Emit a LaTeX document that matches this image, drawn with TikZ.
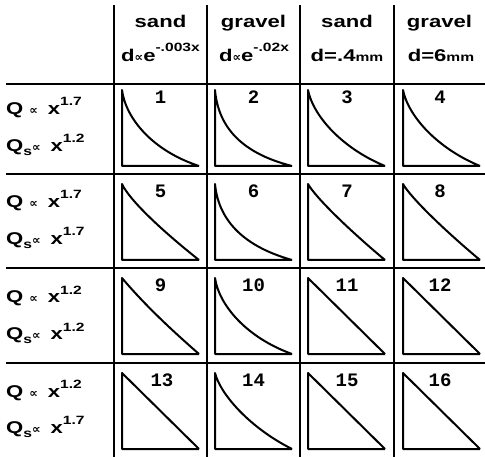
\documentclass[tikz,border=0pt]{standalone}
\usepackage{fontspec}
\setmainfont{Liberation Sans}[FakeStretch=1.3]
\newfontfamily\numf{Liberation Mono}
\newfontfamily\djv{DejaVu Sans}
\newcommand\pr{{\djv\bfseries\fontsize{12}{12}\selectfont ∝}}
\newcommand\sups[2][9pt]{\raisebox{#1}{\fontsize{12}{12}\selectfont #2}}
\newcommand\subs[1]{\raisebox{-4pt}{\fontsize{12}{12}\selectfont #1}}
\newcommand\smm{{\fontsize{12}{12}\selectfont mm}}
\tikzset{
  grid/.style={line width=2pt},
  tri/.style={line width=2pt, line join=round},
  hdr/.style={anchor=base, inner sep=0pt, font=\fontsize{17}{17}\selectfont\bfseries},
  lab/.style={anchor=base west, inner sep=0pt, font=\fontsize{17}{17}\selectfont\bfseries},
  num/.style={anchor=center, inner sep=0pt, font=\fontsize{19}{19}\selectfont\numf\bfseries},
}
% #1 left, #2 top, #3 a, #4 b, #5 c, #6 d
\newcommand\tricell[6]{%
  \begin{scope}[shift={(#1pt,-#2pt)}, x=77pt, y=-76pt]
    \draw[tri] (1,1) -- (0,1) -- (0,0) .. controls (#3,#4) and (#5,#6) .. (1,1);
  \end{scope}}
\begin{document}
\begin{tikzpicture}[x=1pt, y=-1pt]
\useasboundingbox (0,0) rectangle (485,457);
% grid
\foreach \xx/\nm in {114/a,207/b,300/c,394/d} {
  \coordinate (vt\nm) at (\xx,5);
  \coordinate (vb\nm) at (\xx,457);
  \draw[grid] (vt\nm) -- (vb\nm);
}
\foreach \yy/\nm in {84/a,174/b,268/c,363/d} {
  \coordinate (hl\nm) at (6,\yy);
  \coordinate (hr\nm) at (485,\yy);
  \draw[grid] (hl\nm) -- (hr\nm);
}
% header
\node[hdr] (h1) at (160.5,28) {sand};
\node[hdr] (h2) at (253.5,28) {gravel};
\node[hdr] (h3) at (347,28) {sand};
\node[hdr] (h4) at (439.5,28) {gravel};
\node[hdr] (g1) at (160.5,62) {d\pr e\sups[10pt]{-.003x}};
\node[hdr] (g2) at (254,62) {d\pr e\sups[10pt]{-.02x}};
\node[hdr] (g3) at (347,62) {d=.4\smm};
\node[hdr] (g4) at (441,62) {d=6\smm};
% row labels
\node[lab] (q1) at (6,115) {Q\hspace{6pt}\pr\hspace{10pt}x\sups{1.7}};
\node[lab] (s1) at (6,152) {Q\subs{s}\pr\hspace{10pt}x\sups{1.2}};
\node[lab] (q2) at (6,208) {Q\hspace{6pt}\pr\hspace{10pt}x\sups{1.7}};
\node[lab] (s2) at (6,245) {Q\subs{s}\pr\hspace{10pt}x\sups{1.7}};
\node[lab] (q3) at (6,303) {Q\hspace{6pt}\pr\hspace{10pt}x\sups{1.2}};
\node[lab] (s3) at (6,340) {Q\subs{s}\pr\hspace{10pt}x\sups{1.2}};
\node[lab] (q4) at (6,397) {Q\hspace{6pt}\pr\hspace{10pt}x\sups{1.2}};
\node[lab] (s4) at (6,433) {Q\subs{s}\pr\hspace{10pt}x\sups{1.7}};
% triangles
% row 1 (top 90)
\tricell{122}{90}{0.05}{0.38}{0.40}{0.80}
\tricell{215}{90}{0.04}{0.45}{0.30}{0.82}
\tricell{308}{90}{0.07}{0.35}{0.45}{0.77}
\tricell{403}{90}{0.07}{0.35}{0.45}{0.77}
% row 2 (top 184)
\tricell{122}{184}{0.10}{0.22}{0.55}{0.64}
\tricell{215}{184}{0.04}{0.42}{0.30}{0.80}
\tricell{308}{184}{0.10}{0.18}{0.55}{0.62}
\tricell{403}{184}{0.10}{0.18}{0.55}{0.62}
% row 3 (top 278)
\tricell{122}{278}{0.30}{0.36}{0.65}{0.69}
\tricell{215}{278}{0.05}{0.35}{0.40}{0.78}
\tricell{308}{278}{0.33}{0.33}{0.67}{0.67}
\tricell{403}{278}{0.33}{0.33}{0.67}{0.67}
% row 4 (top 373)
\tricell{122}{373}{0.33}{0.33}{0.67}{0.67}
\tricell{215}{373}{0.07}{0.28}{0.45}{0.72}
\tricell{308}{373}{0.33}{0.33}{0.67}{0.67}
\tricell{403}{373}{0.33}{0.33}{0.67}{0.67}
% numbers
\node[num] (n1) at (160.5,97) {1};
\node[num] (n2) at (253.5,97) {2};
\node[num] (n3) at (347,97) {3};
\node[num] (n4) at (440,97) {4};
\node[num] (n5) at (160.5,191) {5};
\node[num] (n6) at (253.5,191) {6};
\node[num] (n7) at (347,191) {7};
\node[num] (n8) at (440,191) {8};
\node[num] (n9) at (160.5,285) {9};
\node[num] (n10) at (253.5,285) {10};
\node[num] (n11) at (347,285) {11};
\node[num] (n12) at (440,285) {12};
\node[num] (n13) at (162,380) {13};
\node[num] (n14) at (253.5,380) {14};
\node[num] (n15) at (347,380) {15};
\node[num] (n16) at (440,380) {16};
\end{tikzpicture}
\end{document}
